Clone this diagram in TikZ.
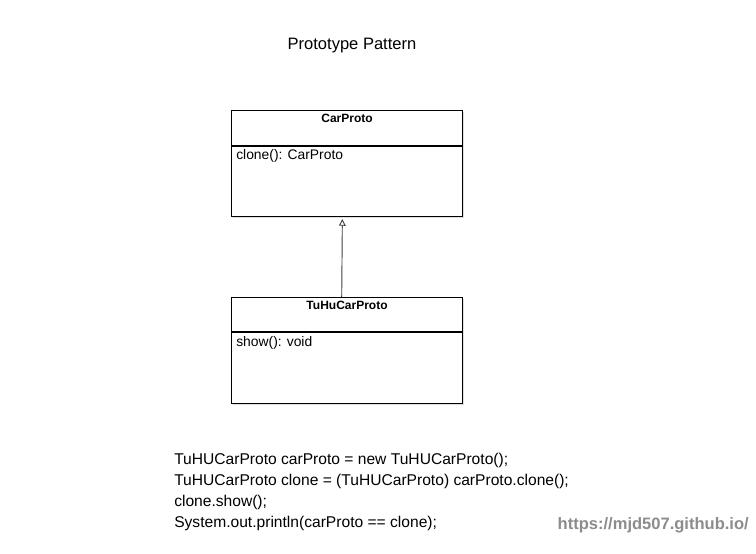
\documentclass[tikz,border=0pt]{standalone}
\usepackage{fontspec}
\setmainfont{Liberation Sans}
\usetikzlibrary{positioning,arrows.meta,shadows}
\tikzset{
  classbox/.style={draw=black, line width=0.8pt, fill=white, minimum width=173.25pt, minimum height=79.5pt, anchor=north west, inner sep=0pt,
    drop shadow={opacity=0.25, shadow xshift=0.8pt, shadow yshift=-0.8pt}},
  classname/.style={font=\bfseries\fontsize{9}{11}\selectfont, inner sep=0pt, anchor=north},
  method/.style={font=\fontsize{10.4}{12}\selectfont, inner sep=0pt, anchor=north west},
  codeline/.style={font=\fontsize{11.7}{14}\selectfont, inner sep=0pt, anchor=west},
  inherit/.style={draw=black!75, line width=0.7pt, -{Triangle[open, width=5pt, length=5pt]}}
}
\begin{document}
\begin{tikzpicture}[x=0.75pt, y=-0.75pt]
    \useasboundingbox (0,0) rectangle (756,553);

    % Title
    \node[font=\fontsize{12.4}{15}\selectfont, inner sep=0pt] (title) at (352,46) {Prototype Pattern};

    % Base class
    \node[classbox] (carproto) at (231,110) {};
    \node[classname, below=3pt of carproto.north] (carproto-name) {CarProto};
    \draw[line width=0.8pt] (carproto.north west) ++(0,36) coordinate (carproto-div) -- ++(231,0);
    \node[method] (carproto-clone) at (236,149) {clone(): CarProto};

    % Concrete class
    \node[classbox] (tuhu) at (231,297) {};
    \node[classname, below=3pt of tuhu.north] (tuhu-name) {TuHuCarProto};
    \draw[line width=0.8pt] (tuhu.north west) ++(0,35) coordinate (tuhu-div) -- ++(231,0);
    \node[method] (tuhu-show) at (236,336) {show(): void};

    % Inheritance
    \draw[inherit, shorten >=1.5pt] ([xshift=-4pt]tuhu.north) -- ([xshift=-3.5pt]carproto.south);

    % Client code
    \node[codeline] (code1) at (174,460) {TuHUCarProto carProto = new TuHUCarProto();};
    \node[codeline] (code2) at (174,481) {TuHUCarProto clone = (TuHUCarProto) carProto.clone();};
    \node[codeline] (code3) at (174,502) {clone.show();};
    \node[codeline] (code4) at (174,523) {System.out.println(carProto == clone);};

    % Watermark
    \node[font=\bfseries\fontsize{12.4}{15}\selectfont, text=black!45, inner sep=0pt, anchor=east] (url) at (749,525) {https://mjd507.github.io/};
\end{tikzpicture}
\end{document}
